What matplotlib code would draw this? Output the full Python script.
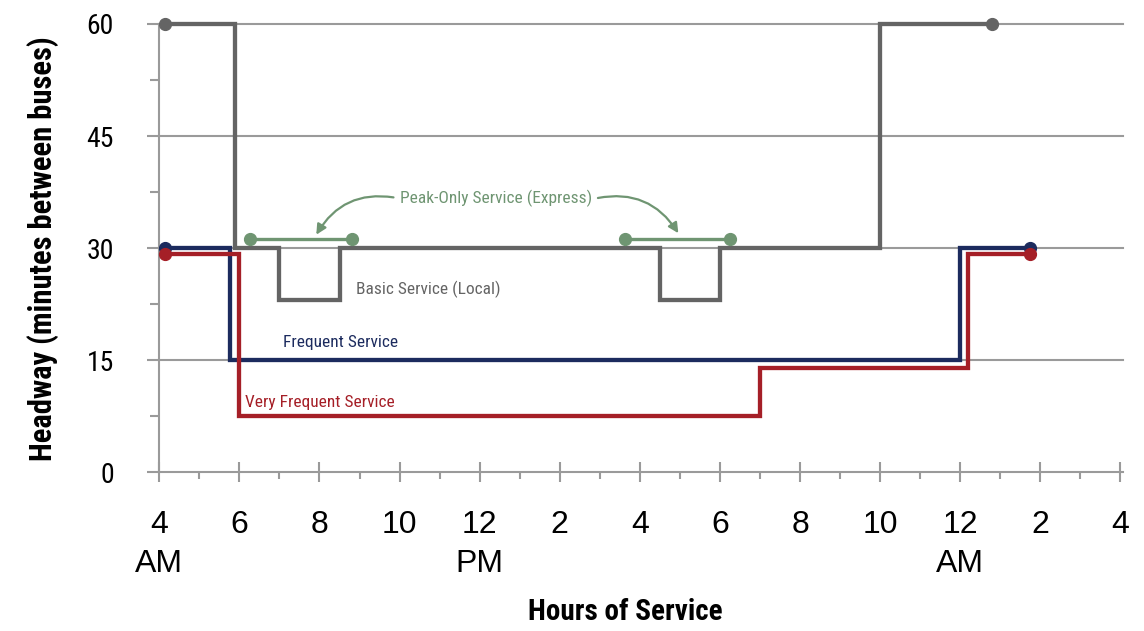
import matplotlib
matplotlib.use("Agg")
import matplotlib.pyplot as plt
from matplotlib.ticker import FixedLocator

# Hours of the service day (4 = 4 AM, 24 = midnight, 28 = 4 AM next day)
hour_ticks = [4, 6, 8, 10, 12, 14, 16, 18, 20, 22, 24, 26, 28]
hour_labels = ["4\nAM", "6", "8", "10", "12\nPM", "2", "4", "6", "8", "10",
               "12\nAM", "2", "4"]
headway_ticks = [0, 15, 30, 45, 60]

# Step changes (hour, headway in minutes) for each service type
basic_hours = [4.15, 5.9, 7.0, 8.5, 16.5, 18.0, 22.0, 24.8]
basic_headway = [60, 30, 23, 30, 23, 30, 60, 60]

frequent_hours = [4.15, 5.77, 24.0, 25.73]
frequent_headway = [30, 15, 30, 30]

very_frequent_hours = [4.15, 6.0, 19.0, 24.2, 25.73]
very_frequent_headway = [29.2, 7.5, 14, 29.2, 29.2]

# Peak-only express runs (start hour, end hour) and the headway they sit at
peak_periods = [(6.27, 8.8), (15.62, 18.25)]
peak_headway = 31.2

GRAY = "#646464"
NAVY = "#1c2b5e"
RED = "#a51f27"
GREEN = "#6f9572"
GRID = "#9a9a9a"

NARROW = ["Roboto Condensed", "Open Sans Condensed", "Liberation Sans Narrow",
          "Roboto", "DejaVu Sans"]
ARIAL = ["Liberation Sans", "DejaVu Sans"]

fig = plt.figure(figsize=(11.44, 6.31), dpi=100)
ax = fig.add_axes([159.3 / 1144, 1 - 472.3 / 631, 964 / 1144, 448.3 / 631])
ax.set_xlim(4, 28.07)
ax.set_ylim(0, 60)

for s in ["top", "right"]:
    ax.spines[s].set_visible(False)
for s in ["left", "bottom"]:
    ax.spines[s].set_color(GRID)
    ax.spines[s].set_linewidth(1.5)

ax.yaxis.set_major_locator(FixedLocator(headway_ticks))
ax.yaxis.set_minor_locator(FixedLocator([7.5, 22.5, 37.5, 52.5]))
ax.xaxis.set_major_locator(FixedLocator(hour_ticks))
ax.xaxis.set_minor_locator(FixedLocator([h + 1 for h in hour_ticks[:-1]]))
ax.set_xticklabels(hour_labels, fontfamily=ARIAL, fontsize=23,
                   linespacing=1.35, va="top")
ax.set_yticklabels([str(v) for v in headway_ticks], fontfamily=NARROW,
                   fontsize=20)

ax.tick_params(axis="y", which="major", direction="out", length=8.6,
               width=1.5, color=GRID, pad=24)
ax.tick_params(axis="y", which="minor", direction="out", length=6.5,
               width=1.5, color=GRID)
ax.tick_params(axis="x", which="major", direction="inout", length=15,
               width=1.5, color=GRID, pad=20)
ax.tick_params(axis="x", which="minor", direction="out", length=5,
               width=1.5, color=GRID)

for v in headway_ticks[1:]:
    ax.axhline(v, color=GRID, lw=1.5, zorder=1, clip_on=False)

line_kw = dict(where="post", lw=3.1, solid_joinstyle="miter",
               solid_capstyle="butt", clip_on=False)
ax.step(basic_hours, basic_headway, color=GRAY, zorder=3, **line_kw)
ax.step(frequent_hours, frequent_headway, color=NAVY, zorder=4, **line_kw)
ax.step(very_frequent_hours, very_frequent_headway, color=RED, zorder=5,
        **line_kw)

dot_kw = dict(marker="o", ms=8.5, ls="none", clip_on=False)
ax.plot([basic_hours[0], basic_hours[-1]], [basic_headway[0], basic_headway[-1]],
        color=GRAY, zorder=6, **dot_kw)
ax.plot([frequent_hours[0], frequent_hours[-1]],
        [frequent_headway[0], frequent_headway[-1]], color=NAVY, zorder=6,
        **dot_kw)
ax.plot([very_frequent_hours[0], very_frequent_hours[-1]],
        [very_frequent_headway[0], very_frequent_headway[-1]], color=RED,
        zorder=7, **dot_kw)

for start, end in peak_periods:
    ax.plot([start, end], [peak_headway, peak_headway], color=GREEN, lw=2.4,
            marker="o", ms=8.5, zorder=8, solid_capstyle="butt")

# Series labels
ax.text(12.41, 36.6, "Peak-Only Service (Express)", color=GREEN,
        fontfamily=NARROW, fontsize=12.5, ha="center", va="center", zorder=9)
arrow_style = "-|>,head_length=0.6,head_width=0.3"
ax.annotate("", xy=(7.92, 31.8), xytext=(9.95, 36.7),
            arrowprops=dict(arrowstyle=arrow_style, color=GREEN, lw=1.6,
                            connectionstyle="arc3,rad=0.35",
                            shrinkA=3, shrinkB=0), zorder=9)
ax.annotate("", xy=(16.96, 32.0), xytext=(14.85, 36.6),
            arrowprops=dict(arrowstyle=arrow_style, color=GREEN, lw=1.6,
                            connectionstyle="arc3,rad=-0.35",
                            shrinkA=3, shrinkB=0), zorder=9)
ax.text(8.9, 24.5, "Basic Service (Local)", color=GRAY, fontfamily=NARROW,
        fontsize=12.5, ha="left", va="center")
ax.text(7.09, 17.4, "Frequent Service", color=NAVY, fontfamily=NARROW,
        fontsize=12.5, ha="left", va="center")
ax.text(6.13, 9.4, "Very Frequent Service", color=RED, fontfamily=NARROW,
        fontsize=12.5, ha="left", va="center")

ax.set_ylabel("Headway (minutes between buses)", fontfamily=NARROW,
              fontweight="bold", fontsize=22, va="center")
ax.yaxis.set_label_coords((43 - 159.3) / 964, 0.5)
ax.set_xlabel("Hours of Service", fontfamily=NARROW, fontweight="bold",
              fontsize=21, va="center")
ax.xaxis.set_label_coords((625 - 159.3) / 964, (472.3 - 612) / 448.3)

fig.savefig("out.png", dpi=100)
